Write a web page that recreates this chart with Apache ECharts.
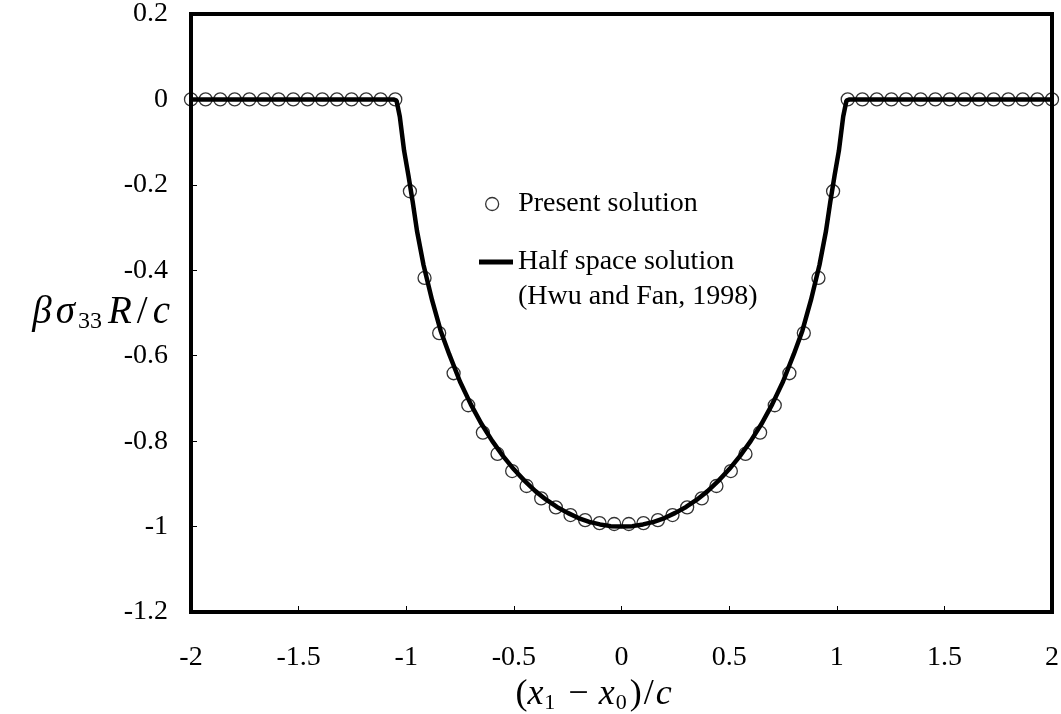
<!DOCTYPE html>
<html><head><meta charset="utf-8">
<script src="https://cdn.jsdelivr.net/npm/echarts@6/dist/echarts.min.js"></script>
<style>html,body{margin:0;padding:0;background:#fff}#c{width:1061px;height:714px}</style>
</head><body><div id="c"></div>
<script>
// Present solution (circles)
const xPresent = [-2.000,-1.932,-1.864,-1.797,-1.729,-1.661,-1.593,-1.525,-1.458,-1.390,-1.322,-1.254,-1.186,-1.119,-1.051,
  -0.983,-0.915,-0.847,-0.780,-0.712,-0.644,-0.576,-0.508,-0.441,-0.373,-0.305,-0.237,-0.169,-0.102,-0.034,
  0.034,0.102,0.169,0.237,0.305,0.373,0.441,0.508,0.576,0.644,0.712,0.780,0.847,0.915,0.983,
  1.051,1.119,1.186,1.254,1.322,1.390,1.458,1.525,1.593,1.661,1.729,1.797,1.864,1.932,2.000];
const yPresent = [0,0,0,0,0,0,0,0,0,0,0,0,0,0,0,
  -0.215,-0.418,-0.547,-0.641,-0.716,-0.780,-0.830,-0.870,-0.905,-0.934,-0.955,-0.973,-0.985,-0.992,-0.994,
  -0.994,-0.992,-0.985,-0.973,-0.955,-0.934,-0.905,-0.870,-0.830,-0.780,-0.716,-0.641,-0.547,-0.418,-0.215,
  0,0,0,0,0,0,0,0,0,0,0,0,0,0,0];
// Half space solution (line)
const xHalf = [-2,-1.06,-1.045,-1.03,-1.01,-0.99,-0.97,-0.95,-0.92,-0.88,-0.84,-0.8,-0.75,-0.7,-0.65,-0.6,-0.55,-0.5,-0.45,-0.4,-0.35,-0.3,-0.25,-0.2,-0.15,-0.1,-0.05,
  0,
  0.05,0.1,0.15,0.2,0.25,0.3,0.35,0.4,0.45,0.5,0.55,0.6,0.65,0.7,0.75,0.8,0.84,0.88,0.92,0.95,0.97,0.99,1.01,1.03,1.045,1.06,2];
const yHalf = [0,0,-0.003,-0.04,-0.12,-0.178,-0.24,-0.308,-0.387,-0.47,-0.542,-0.597,-0.661,-0.714,-0.76,-0.8,-0.835,-0.866,-0.893,-0.917,-0.937,-0.954,-0.968,-0.98,-0.989,-0.995,-0.999,
  -1.0,
  -0.999,-0.995,-0.989,-0.98,-0.968,-0.954,-0.937,-0.917,-0.893,-0.866,-0.835,-0.8,-0.76,-0.714,-0.661,-0.597,-0.542,-0.47,-0.387,-0.308,-0.24,-0.178,-0.12,-0.04,-0.003,0,0];
const seriesNames = ['Present solution', 'Half space solution'];
const legendExtraLine = '(Hwu and Fan, 1998)';

const FONT = 'Liberation Serif, Times New Roman, serif';
const zip = (xs, ys) => xs.map((x, i) => [x, ys[i]]);

const chart = echarts.init(document.getElementById('c'), null, {renderer: 'canvas'});
chart.setOption({
  animation: false,
  backgroundColor: '#fff',
  grid: {left: 191, top: 14, width: 861, height: 598, show: true, borderColor: '#000', borderWidth: 4, backgroundColor: 'transparent', outerBoundsMode: 'none'},
  xAxis: {
    type: 'value', min: -2, max: 2, interval: 0.5,
    axisLine: {show: false, onZero: false},
    axisTick: {show: true, inside: true, length: 6, lineStyle: {color: '#000', width: 1}},
    splitLine: {show: false},
    axisLabel: {color: '#000', fontFamily: FONT, fontSize: 28, margin: 32},
    name: '{p|(}{i|x}{s|1}{m|−}{i|x}{s|0}{p|)}{m2|/}{i|c}',
    nameLocation: 'middle', nameGap: 64, nameMoveOverlap: false,
    nameTextStyle: {
      padding: [0, 56, 0, 0],
      rich: {
        p: {fontFamily: FONT, fontSize: 36, color: '#000'},
        m: {fontFamily: FONT, fontSize: 36, color: '#000', padding: [0, 10, 0, 10]},
        m2: {fontFamily: FONT, fontSize: 36, color: '#000', padding: [0, 2, 0, 2]},
        i: {fontFamily: FONT, fontSize: 36, fontStyle: 'italic', color: '#000'},
        s: {fontFamily: FONT, fontSize: 22, color: '#000', padding: [16, 3, 0, 1]}
      }
    }
  },
  yAxis: {
    type: 'value', min: -1.2, max: 0.2, interval: 0.2,
    axisLine: {show: false, onZero: false},
    axisTick: {show: true, inside: true, length: 6, lineStyle: {color: '#000', width: 1}},
    splitLine: {show: false},
    axisLabel: {color: '#000', fontFamily: FONT, fontSize: 28, margin: 23,
      formatter: v => String(+(+v).toFixed(1))},
    name: '{i|β}{i|σ}{s|33}{i|R}{p|/}{i|c}',
    nameLocation: 'middle', nameRotate: 0, nameGap: 19, nameMoveOverlap: false,
    nameTextStyle: {
      rich: {
        p: {fontFamily: FONT, fontSize: 39, color: '#000', padding: [0, 3, 0, 3]},
        i: {fontFamily: FONT, fontSize: 39, fontStyle: 'italic', color: '#000', padding: [0, 2, 0, 2]},
        s: {fontFamily: FONT, fontSize: 24, color: '#000', padding: [18, 4, 0, 1]}
      }
    }
  },
  legend: [
    {
      data: [{name: seriesNames[0], icon: 'circle', itemStyle: {color: 'rgba(0,0,0,0)', borderColor: '#000', borderWidth: 1.3}}],
      left: 485, top: 189, padding: 0, itemWidth: 22, itemHeight: 13, selectedMode: false,
      textStyle: {fontFamily: FONT, fontSize: 28, color: '#000', lineHeight: 30, padding: [0, 0, 0, 10]}
    },
    {
      data: [{name: seriesNames[1], icon: 'rect', itemStyle: {color: '#000', borderWidth: 0}}],
      left: 479, top: 209.5, padding: 0, itemWidth: 34, itemHeight: 5, selectedMode: false,
      formatter: n => '\n' + n + '\n' + legendExtraLine,
      textStyle: {fontFamily: FONT, fontSize: 28, color: '#000', lineHeight: 35}
    }
  ],
  series: [
    {
      name: seriesNames[1], type: 'line', data: zip(xHalf, yHalf),
      showSymbol: false, symbol: 'none', color: '#000',
      lineStyle: {color: '#000', width: 4.5}, z: 2
    },
    {
      name: seriesNames[0], type: 'scatter', data: zip(xPresent, yPresent),
      symbol: 'circle', symbolSize: 13, color: '#000',
      itemStyle: {color: 'rgba(0,0,0,0)', borderColor: '#000', borderWidth: 1.3}, z: 3
    }
  ]
});
</script></body></html>
